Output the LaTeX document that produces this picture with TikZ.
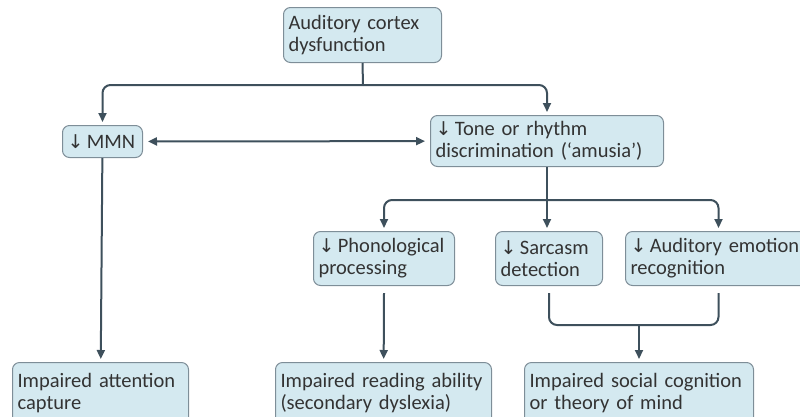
\documentclass[tikz,border=0pt]{standalone}
\usepackage{fontspec}
\setmainfont{Carlito}
\newfontfamily\arrowfont{DejaVu Sans}
\usetikzlibrary{arrows.meta,calc}
\definecolor{boxfill}{HTML}{D4E9F0}
\definecolor{boxline}{HTML}{7E8E98}
\definecolor{conncol}{HTML}{3E505C}
\newcommand{\dn}{{\arrowfont\fontsize{19}{19}\selectfont ↓}\,}
\tikzset{
  box/.style={draw=boxline, fill=boxfill, line width=1pt, rounded corners=7pt,
    anchor=north west, align=left, inner xsep=5pt, inner ysep=0pt,
    font=\fontsize{20.5}{22}\selectfont, text=black!80},
  conn/.style={draw=conncol, line width=2pt, rounded corners=8pt},
  arr/.style={-{Triangle[length=9pt,width=8pt]}, shorten >=3pt}
}
\begin{document}
\begin{tikzpicture}[x=1pt,y=-1pt]
\useasboundingbox (0,0) rectangle (800,416);
\clip (0,0) rectangle (800,416);
\node[box, minimum width=158pt, minimum height=55pt, text width=148pt] (top) at (283,7) {Auditory cortex\\dysfunction};
\node[box, minimum width=80pt, minimum height=32pt, text width=70pt] (mmn) at (62,125) {\dn MMN};
\node[box, minimum width=233pt, minimum height=51pt, text width=223pt] (tone) at (430,115) {\dn Tone or rhythm\\discrimination (‘amusia’)};
\node[box, minimum width=141pt, minimum height=54pt, text width=131pt] (phon) at (313,231) {\dn Phonological\\processing};
\node[box, minimum width=107pt, minimum height=54pt, text width=97pt] (sarc) at (495,231) {\dn Sarcasm\\detection};
\node[box, minimum width=186pt, minimum height=54pt, text width=176pt] (emo) at (625,231) {\dn Auditory emotion\\recognition};
\node[box, minimum width=176pt, minimum height=62pt, text width=166pt] (att) at (12,362) {Impaired attention\\capture};
\node[box, minimum width=216pt, minimum height=62pt, text width=206pt] (read) at (275,362) {Impaired reading ability\\(secondary dyslexia)};
\node[box, minimum width=229pt, minimum height=62pt, text width=219pt] (soc) at (524,362) {Impaired social cognition\\or theory of mind};
% connectors
\coordinate (j1) at (363,85);
\draw[conn] (top.south) -- (j1);
\draw[conn,arr] (j1) -| (mmn);
\draw[conn,arr] (j1) -| (tone);
\draw[conn,{Triangle[length=9pt,width=8pt]}-{Triangle[length=9pt,width=8pt]}, shorten <=5pt, shorten >=5pt] (mmn) -- (tone);
\draw[conn,arr] (mmn) -- (att);
\coordinate (j2) at (tone.south |- 0,200);
\draw[conn,arr] (tone) -- (tone.south |- sarc.north);
\draw[conn,arr] (j2) -| (phon);
\draw[conn,arr] (j2) -| (emo);
\draw[conn,arr] ($(phon.south)+(0,7)$) -- (read);
\coordinate (j3) at (soc.north |- 0,325);
\draw[conn] ($(sarc.south)+(0,7)$) |- (j3) -| ($(emo.south)+(0,7)$);
\draw[conn,arr] (j3) -- (soc);
\end{tikzpicture}
\end{document}
